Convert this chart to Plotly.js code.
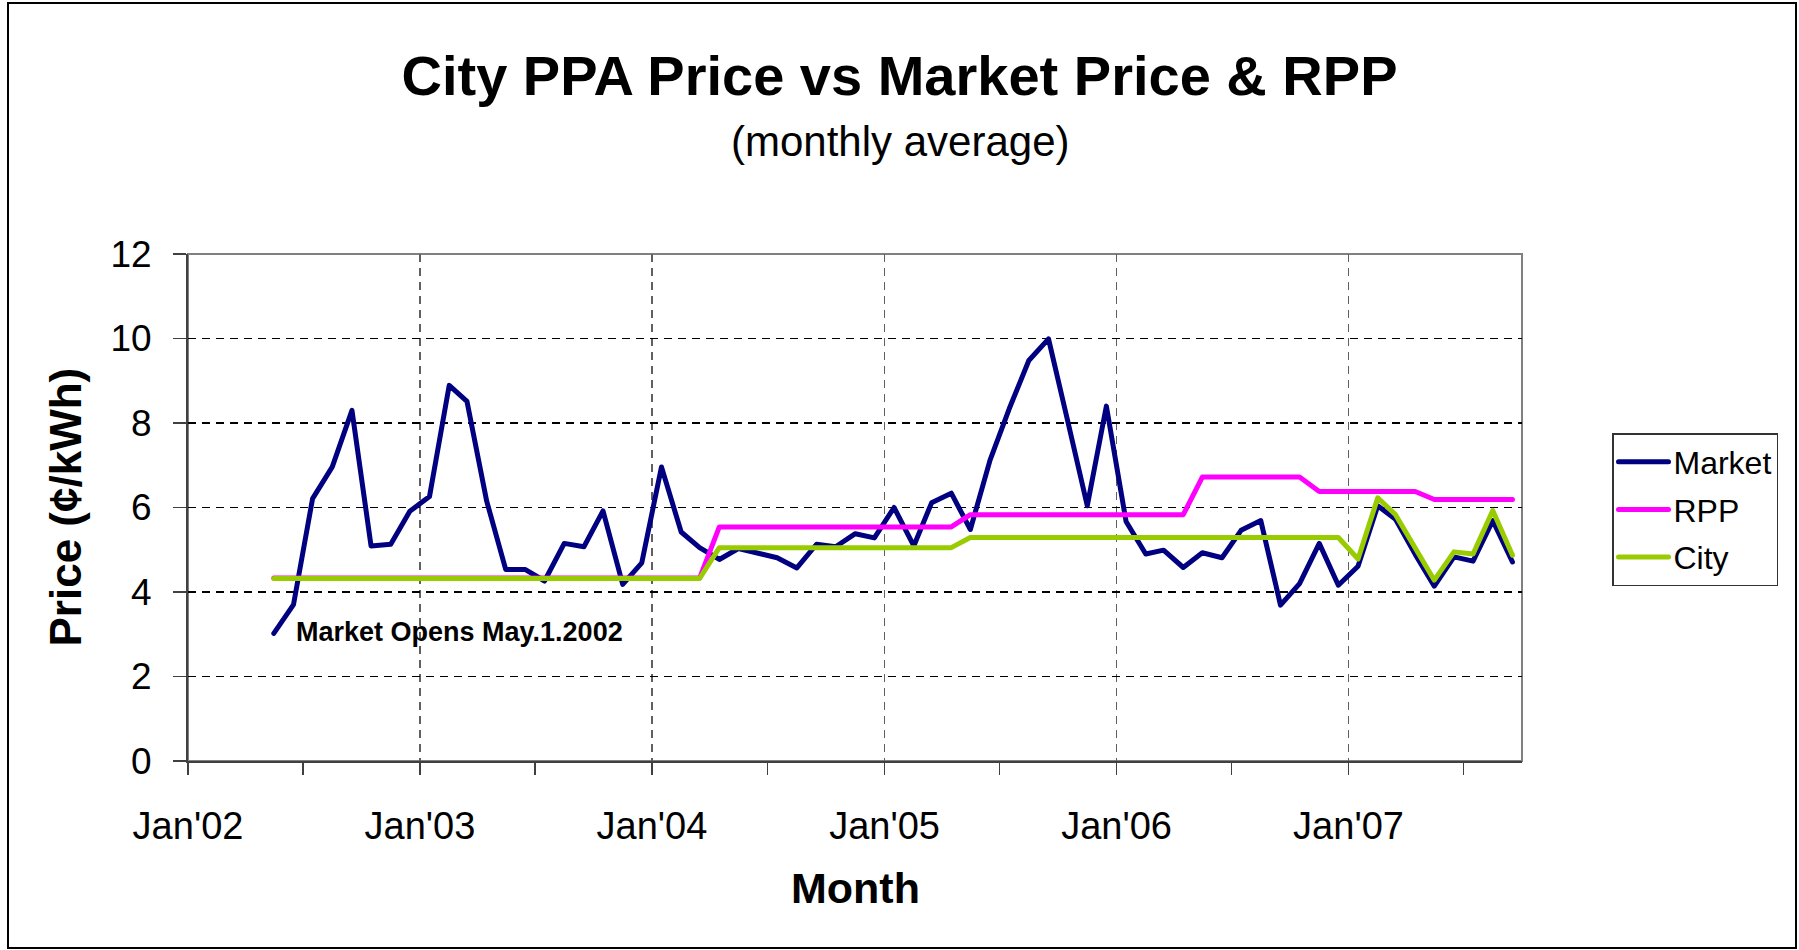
<!DOCTYPE html>
<html>
<head>
<meta charset="utf-8">
<script src="https://cdn.plot.ly/plotly-3.0.1.min.js"></script>
<style>
  html, body { margin: 0; padding: 0; background: #fff; }
  #wrap { position: relative; width: 1799px; height: 950px; }
  #chart { position: absolute; left: 0; top: 0; width: 1799px; height: 950px; }
  #frame { position: absolute; left: 7px; top: 2px; width: 1790px; height: 947px;
           border: 2px solid #000; box-sizing: border-box; pointer-events: none; }
  #chart .scatterlayer path.js-line, #chart .legend path.js-line {
    stroke-linejoin: round; stroke-linecap: round;
  }
</style>
</head>
<body>
<div id="wrap">
  <div id="chart"></div>
  <div id="frame"></div>
</div>
<script>
// Months (mid-month points) May 2002 - Sep 2007
const months = [
  '2002-05','2002-06','2002-07','2002-08','2002-09','2002-10','2002-11','2002-12',
  '2003-01','2003-02','2003-03','2003-04','2003-05','2003-06','2003-07','2003-08','2003-09','2003-10','2003-11','2003-12',
  '2004-01','2004-02','2004-03','2004-04','2004-05','2004-06','2004-07','2004-08','2004-09','2004-10','2004-11','2004-12',
  '2005-01','2005-02','2005-03','2005-04','2005-05','2005-06','2005-07','2005-08','2005-09','2005-10','2005-11','2005-12',
  '2006-01','2006-02','2006-03','2006-04','2006-05','2006-06','2006-07','2006-08','2006-09','2006-10','2006-11','2006-12',
  '2007-01','2007-02','2007-03','2007-04','2007-05','2007-06','2007-07','2007-08','2007-09'
];

const market = [
  3.02, 3.70, 6.21, 6.96, 8.30, 5.09, 5.13, 5.91,
  6.26, 8.89, 8.51, 6.15, 4.53, 4.53, 4.26, 5.15, 5.07, 5.92, 4.18, 4.69,
  6.96, 5.42, 5.05, 4.77, 5.03, 4.93, 4.81, 4.57, 5.13, 5.07, 5.38, 5.28,
  6.00, 5.09, 6.11, 6.34, 5.48, 7.12, 8.33, 9.48, 9.99, 8.06, 6.04, 8.40,
  5.67, 4.90, 4.99, 4.58, 4.93, 4.81, 5.46, 5.69, 3.69, 4.20, 5.15, 4.16,
  4.61, 6.04, 5.72, 4.89, 4.14, 4.83, 4.73, 5.69, 4.71
];

const rpp = [
  4.33, 4.33, 4.33, 4.33, 4.33, 4.33, 4.33, 4.33,
  4.33, 4.33, 4.33, 4.33, 4.33, 4.33, 4.33, 4.33, 4.33, 4.33, 4.33, 4.33,
  4.33, 4.33, 4.33, 5.54, 5.54, 5.54, 5.54, 5.54, 5.54, 5.54, 5.54, 5.54,
  5.54, 5.54, 5.54, 5.54, 5.83, 5.83, 5.83, 5.83, 5.83, 5.83, 5.83, 5.83,
  5.83, 5.83, 5.83, 5.83, 6.72, 6.72, 6.72, 6.72, 6.72, 6.72, 6.38, 6.38,
  6.38, 6.38, 6.38, 6.38, 6.19, 6.19, 6.19, 6.19, 6.19
];

const city = [
  4.32, 4.32, 4.32, 4.32, 4.32, 4.32, 4.32, 4.32,
  4.32, 4.32, 4.32, 4.32, 4.32, 4.32, 4.32, 4.32, 4.32, 4.32, 4.32, 4.32,
  4.32, 4.32, 4.32, 5.05, 5.05, 5.05, 5.05, 5.05, 5.05, 5.05, 5.05, 5.05,
  5.05, 5.05, 5.05, 5.05, 5.29, 5.29, 5.29, 5.29, 5.29, 5.29, 5.29, 5.29,
  5.29, 5.29, 5.29, 5.29, 5.29, 5.29, 5.29, 5.29, 5.29, 5.29, 5.29, 5.29,
  4.78, 6.23, 5.83, 5.05, 4.28, 4.95, 4.90, 5.93, 4.87
];

const seriesNames = ['Market', 'RPP', 'City'];
const seriesColors = ['#000080', '#FF00FF', '#99CC00'];
const titleText = 'City PPA Price vs Market Price &amp; RPP';
const subtitleText = '(monthly average)';
const yTitle = 'Price (¢/kWh)';
const xTitle = 'Month';
const noteText = 'Market Opens May.1.2002';

const xDates = months.map(m => m + '-16');

const FONT = 'Liberation Sans, Arial, Helvetica, sans-serif';
const W = 1799, H = 950;
const M = { l: 188, r: 277, t: 254, b: 189 };
const pw = W - M.l - M.r, ph = H - M.t - M.b;
const px = x => (x - M.l) / pw;
const py = y => (H - M.b - y) / ph;

const traces = [market, rpp, city].map((vals, i) => ({
  type: 'scatter',
  mode: 'lines',
  name: seriesNames[i],
  legendgroup: 'g' + i,
  x: xDates,
  y: vals,
  line: { color: seriesColors[i], width: 5 },
  hoverinfo: 'x+y+name'
}));

const layout = {
  width: W,
  height: H,
  margin: M,
  paper_bgcolor: '#ffffff',
  plot_bgcolor: '#ffffff',
  font: { family: FONT, color: '#000000' },
  showlegend: true,
  title: {
    text: '<b>' + titleText + '</b>',
    font: { family: FONT, size: 56, color: '#000000' },
    xref: 'container', yref: 'container',
    x: 0.5, xanchor: 'center',
    y: 1 - 75 / H, yanchor: 'middle'
  },
  xaxis: {
    type: 'date',
    range: ['2002-01-01', '2007-10-01'],
    tick0: '2002-01-01',
    dtick: 'M12',
    tickformat: "%b'%y",
    tickfont: { family: FONT, size: 38, color: '#000000' },
    ticks: 'outside',
    ticklen: 12,
    tickwidth: 1.5,
    tickcolor: '#404040',
    ticklabelstandoff: 18,
    showline: true,
    linecolor: '#404040',
    linewidth: 2,
    showgrid: true,
    gridcolor: '#606060',
    gridwidth: 1.5,
    griddash: '8px,6px',
    zeroline: false,
    minor: {
      tick0: '2002-01-01',
      dtick: 'M6',
      ticks: 'outside',
      ticklen: 12,
      tickwidth: 1.5,
      tickcolor: '#404040',
      showgrid: false
    },
    title: { text: '' }
  },
  yaxis: {
    range: [0, 12],
    tick0: 0,
    dtick: 2,
    tickfont: { family: FONT, size: 37, color: '#000000' },
    ticks: 'outside',
    ticklen: 13,
    tickwidth: 1.5,
    tickcolor: '#404040',
    ticklabelstandoff: 14,
    showline: true,
    linecolor: '#404040',
    linewidth: 2,
    showgrid: true,
    gridcolor: '#000000',
    gridwidth: 1.2,
    griddash: '8px,6px',
    zeroline: false,
    title: { text: '' }
  },
  legend: {
    x: px(1612), y: py(433),
    xanchor: 'left', yanchor: 'top',
    bgcolor: '#ffffff',
    bordercolor: '#333333',
    borderwidth: 1.5,
    font: { family: FONT, size: 32, color: '#000000' },
    traceorder: 'grouped',
    tracegroupgap: 3,
    itemwidth: 50
  },
  shapes: [
    { type: 'rect', xref: 'paper', yref: 'paper', x0: 0, x1: 1, y0: 0, y1: 1,
      line: { color: '#808080', width: 2 }, layer: 'below' }
  ],
  annotations: [
    { xref: 'paper', yref: 'paper', x: px(W / 2), y: py(141),
      xanchor: 'center', yanchor: 'middle', showarrow: false,
      text: subtitleText, font: { family: FONT, size: 42, color: '#000000' } },
    { xref: 'paper', yref: 'paper', x: px(65), y: 0.5,
      xanchor: 'center', yanchor: 'middle', showarrow: false, textangle: -90,
      text: '<b>' + yTitle + '</b>', font: { family: FONT, size: 44, color: '#000000' } },
    { xref: 'paper', yref: 'paper', x: 0.5, y: py(888),
      xanchor: 'center', yanchor: 'middle', showarrow: false,
      text: '<b>' + xTitle + '</b>', font: { family: FONT, size: 43, color: '#000000' } },
    { xref: 'paper', yref: 'paper', x: px(294), y: py(632),
      xanchor: 'left', yanchor: 'middle', showarrow: false,
      text: '<b>' + noteText + '</b>', font: { family: FONT, size: 27, color: '#000000' } }
  ]
};

Plotly.newPlot('chart', traces, layout, { displayModeBar: false, staticPlot: true });
</script>
</body>
</html>
